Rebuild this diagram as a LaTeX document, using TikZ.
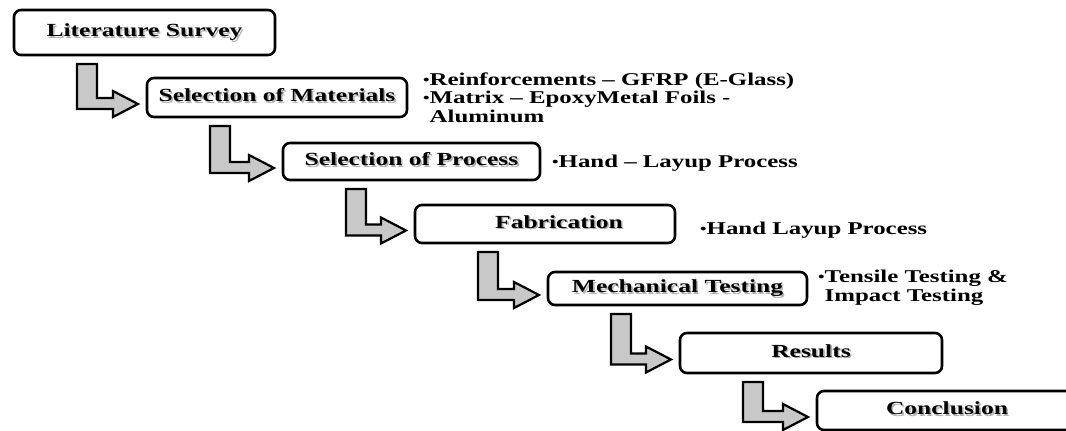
\documentclass[tikz,border=0pt]{standalone}
\usepackage{fontspec}
\setmainfont{Liberation Serif}[FakeStretch=1.38]
\usepackage{xcolor}
\usetikzlibrary{calc}
\definecolor{arrowgray}{RGB}{200,200,200}
\newcommand{\txtshade}[1]{\leavevmode\rlap{\kern1.6pt\raisebox{-1.6pt}{\textcolor{black!30}{#1}}}#1}
\newcommand{\dotmark}{\raisebox{1pt}{\scalebox{0.75}{\textbullet}}}

\begin{document}
\begin{tikzpicture}[x=1pt,y=-1pt,
  stepbox/.style={draw,line width=2.6pt,rounded corners=7pt,inner sep=0pt,outer sep=0pt,
    font=\fontsize{18.5}{19}\selectfont\bfseries,text height=12.5pt,text depth=4pt},
  note/.style={anchor=base west,inner sep=0pt,align=left,font=\fontsize{18}{18.5}\selectfont\bfseries},
  bentarrow/.style={draw,line width=2.2pt,fill=arrowgray,line join=miter}]
\useasboundingbox (0,0) rectangle (1066,431);
% steps
\node[stepbox,minimum width=261pt,minimum height=45pt] (lit) at (144.5,32.5) {\txtshade{Literature Survey}};
\node[stepbox,minimum width=260pt,minimum height=39pt] (mat) at (277,97.5) {\txtshade{Selection of Materials}};
\node[stepbox,minimum width=257pt,minimum height=37pt] (proc) at (411.5,161.5) {\txtshade{Selection of Process}};
\node[stepbox,minimum width=260pt,minimum height=38pt] (fab) at (545,224) {\hspace*{28pt}\txtshade{Fabrication}};
\node[stepbox,minimum width=259pt,minimum height=33pt] (mech) at (677.5,288.5) {\txtshade{Mechanical Testing}};
\node[stepbox,minimum width=262pt,minimum height=40pt] (res) at (811,353) {\txtshade{Results}};
\node[stepbox,minimum width=260pt,minimum height=39pt] (conc) at (947,410.5) {\txtshade{Conclusion}};
% side notes (base = last line)
\node[note] (matnote) at (423,122) {\dotmark Reinforcements -- GFRP (E-Glass)\\
  \dotmark Matrix -- EpoxyMetal Foils -\\\phantom{\dotmark}Aluminum};
\node[note] (procnote) at (552,167) {\dotmark Hand -- Layup Process};
\node[note] (fabnote) at (700,234) {\dotmark Hand Layup Process};
\node[note] (mechnote) at (818,301) {\dotmark Tensile Testing \&\\\phantom{\dotmark}Impact Testing};
% bent arrows
\foreach \a/\b in {lit/mat,mat/proc,proc/fab,fab/mech,mech/res,res/conc} {
  \draw[bentarrow] let \p1=($(\a.south west)+(63,9)$), \p2=($(\b.west)+(-9,6.5)$) in
    (\x1,\y1) -- (\x1+20pt,\y1) -- (\x1+20pt,\y2+6pt) -- (\x2-25pt,\y2+6pt) -- (\x2-25pt,\y2+13pt)
    -- (\x2,\y2) -- (\x2-25pt,\y2-13pt) -- (\x2-25pt,\y2-5pt) -- (\x1,\y2-5pt) -- cycle;
}
\end{tikzpicture}
\end{document}
